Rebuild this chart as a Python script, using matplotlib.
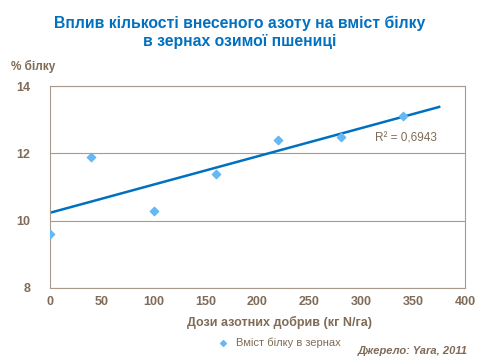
import numpy as np
import matplotlib.pyplot as plt

plt.rcParams['font.family'] = ['Liberation Sans', 'DejaVu Sans']

# data
doses = [0, 40, 100, 160, 220, 280, 340]
protein = [9.6, 11.9, 10.3, 11.4, 12.4, 12.5, 13.1]
trend_range = [0, 375]
x_ticks = [0, 50, 100, 150, 200, 250, 300, 350, 400]
y_ticks = [8, 10, 12, 14]

brown = '#7f6b57'
frame = '#a89a8c'

fig = plt.figure(figsize=(4.8, 3.6), dpi=100)
ax = fig.add_axes([0.104, 0.2, 0.865, 0.561])

ax.scatter(doses, protein, marker='D', s=18, color='#66b8f5', zorder=3,
           label='Вміст білку в зернах')

k, b = np.polyfit(doses, protein, 1)
pred = np.polyval([k, b], doses)
r2 = 1 - np.sum((np.array(protein) - pred) ** 2) / np.sum((np.array(protein) - np.mean(protein)) ** 2)
xt = np.array(trend_range)
ax.plot(xt, k * xt + b, color='#0070c0', lw=1.8, zorder=2)
ax.text(313, 12.35, 'R² = ' + f'{r2:.4f}'.replace('.', ','), color=brown, fontsize=8.5)

ax.set_xlim(0, 400)
ax.set_ylim(8, 14)
ax.set_xticks(x_ticks)
ax.set_yticks(y_ticks)
ax.tick_params(length=0, colors=brown, labelsize=9)
ax.tick_params(axis='x', pad=6)
ax.tick_params(axis='y', pad=14)
for lab in ax.get_xticklabels() + ax.get_yticklabels():
    lab.set_fontweight('bold')
ax.grid(axis='y', color=frame, lw=0.8)
for s in ax.spines.values():
    s.set_color(frame)

fig.text(0.5, 0.91, 'Вплив кількості внесеного азоту на вміст білку\nв зернах озимої пшениці',
         ha='center', va='center', color='#0070c0', fontsize=11.3, fontweight='bold', linespacing=1.25)
fig.text(0.022, 0.805, '% білку', color=brown, fontsize=8.5, fontweight='bold')
fig.text(0.583, 0.094, 'Дози азотних добрив (кг N/га)', ha='center', color=brown,
         fontsize=9, fontweight='bold')
fig.legend(loc='center', bbox_to_anchor=(0.575, 0.048), frameon=False, fontsize=8,
           labelcolor=brown, handletextpad=0.2, markerscale=0.7)
fig.text(0.975, 0.018, 'Джерело: Yara, 2011', ha='right', color=brown, fontsize=8,
         fontstyle='italic', fontweight='bold')

fig.savefig('out.png', dpi=100)
